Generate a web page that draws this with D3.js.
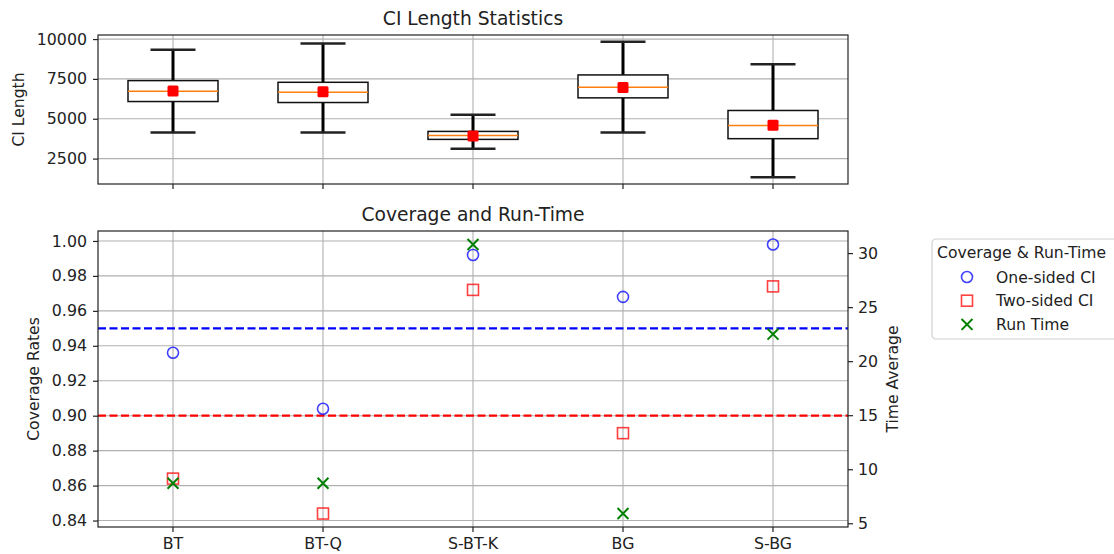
<!DOCTYPE html>
<html>
<head>
<meta charset="utf-8">
<script src="https://cdn.jsdelivr.net/npm/d3@7"></script>
<style>
  body { margin: 0; background: #fff; }
  svg { font-family: "DejaVu Sans", sans-serif; }
  .grid line { stroke: #b0b0b0; stroke-width: 1.1; }
  .axis text { font-family: "DejaVu Sans", sans-serif; font-size: 15.8px; fill: #222; }
  .axis path { display: none; }
  .axis line { stroke: #222; stroke-width: 1.2; }
</style>
</head>
<body>
<svg id="chart" width="1114" height="554"></svg>
<script>
// Methods compared
const methods = ['BT', 'BT-Q', 'S-BT-K', 'BG', 'S-BG'];

// CI length box statistics
const whiskerLow = [4144, 4144, 3125, 4144, 1331];
const q1 = [6081, 6019, 3706, 6312, 3750];
const median = [6725, 6663, 3956, 6975, 4581];
const q3 = [7394, 7288, 4206, 7750, 5519];
const whiskerHigh = [9331, 9725, 5250, 9831, 8413];
const meanLength = [6745, 6690, 3920, 6960, 4590];

// Coverage rates and run time
const oneSided = [0.936, 0.904, 0.992, 0.968, 0.998];
const twoSided = [0.864, 0.844, 0.972, 0.890, 0.974];
const runTime = [8.7, 8.7, 30.8, 5.9, 22.5];

const nominalLevels = [0.95, 0.90];
const nominalColors = ['blue', 'red'];

const lengthTicks = [2500, 5000, 7500, 10000];
const coverageTicks = [0.84, 0.86, 0.88, 0.90, 0.92, 0.94, 0.96, 0.98, 1.00];
const timeTicks = [5, 10, 15, 20, 25, 30];

const svg = d3.select('#chart');

const plotLeft = 98;
const plotRight = 848;
const topBox = { top: 35, bottom: 184 };
const botBox = { top: 231, bottom: 527 };

// pad a domain by 5% on each side, like the default margins
const padded = (lo, hi) => {
  const m = (hi - lo) * 0.05;
  return [lo - m, hi + m];
};

const x = d3.scaleBand()
  .domain(methods)
  .range([plotLeft, plotRight])
  .paddingInner(0)
  .paddingOuter(0);
const cx = d => x(d) + x.bandwidth() / 2;

/* ---------------- top panel: CI length ---------------- */
const yLen = d3.scaleLinear()
  .domain(padded(d3.min(whiskerLow), d3.max(whiskerHigh)))
  .range([topBox.bottom, topBox.top]);

const topG = svg.append('g');

// grid
topG.append('g')
  .attr('class', 'grid')
  .selectAll('line.h')
  .data(lengthTicks)
  .join('line')
  .attr('x1', plotLeft).attr('x2', plotRight)
  .attr('y1', d => yLen(d)).attr('y2', d => yLen(d));

topG.append('g')
  .attr('class', 'grid')
  .selectAll('line.v')
  .data(methods)
  .join('line')
  .attr('x1', d => cx(d)).attr('x2', d => cx(d))
  .attr('y1', topBox.top).attr('y2', topBox.bottom);

// axes
topG.append('g')
  .attr('class', 'axis')
  .attr('transform', `translate(${plotLeft},0)`)
  .call(d3.axisLeft(yLen).tickValues(lengthTicks).tickSize(5).tickPadding(6).tickFormat(d3.format('d')));

topG.append('g')
  .attr('class', 'axis')
  .attr('transform', `translate(0,${topBox.bottom})`)
  .call(d3.axisBottom(x).tickSize(5).tickFormat(''));

// boxes
const boxW = x.bandwidth() * 0.6;
const capW = boxW / 2;

const boxes = topG.append('g')
  .selectAll('g.box')
  .data(methods)
  .join('g')
  .attr('class', 'box');

boxes.append('line')
  .attr('x1', d => cx(d)).attr('x2', d => cx(d))
  .attr('y1', (d, i) => yLen(whiskerHigh[i]))
  .attr('y2', (d, i) => yLen(q3[i]))
  .attr('stroke', '#000').attr('stroke-width', 3);

boxes.append('line')
  .attr('x1', d => cx(d)).attr('x2', d => cx(d))
  .attr('y1', (d, i) => yLen(q1[i]))
  .attr('y2', (d, i) => yLen(whiskerLow[i]))
  .attr('stroke', '#000').attr('stroke-width', 3);

boxes.append('line')
  .attr('x1', d => cx(d) - capW / 2).attr('x2', d => cx(d) + capW / 2)
  .attr('y1', (d, i) => yLen(whiskerHigh[i]))
  .attr('y2', (d, i) => yLen(whiskerHigh[i]))
  .attr('stroke', '#222').attr('stroke-width', 2.5);

boxes.append('line')
  .attr('x1', d => cx(d) - capW / 2).attr('x2', d => cx(d) + capW / 2)
  .attr('y1', (d, i) => yLen(whiskerLow[i]))
  .attr('y2', (d, i) => yLen(whiskerLow[i]))
  .attr('stroke', '#222').attr('stroke-width', 2.5);

boxes.append('rect')
  .attr('x', d => cx(d) - boxW / 2)
  .attr('width', boxW)
  .attr('y', (d, i) => yLen(q3[i]))
  .attr('height', (d, i) => yLen(q1[i]) - yLen(q3[i]))
  .attr('fill', '#fff')
  .attr('stroke', '#111').attr('stroke-width', 1.5);

boxes.append('line')
  .attr('x1', d => cx(d) - boxW / 2).attr('x2', d => cx(d) + boxW / 2)
  .attr('y1', (d, i) => yLen(median[i]))
  .attr('y2', (d, i) => yLen(median[i]))
  .attr('stroke', '#ff7f0e').attr('stroke-width', 1.5);

boxes.append('rect')
  .attr('x', d => cx(d) - 5.5)
  .attr('y', (d, i) => yLen(meanLength[i]) - 5.5)
  .attr('width', 11).attr('height', 11)
  .attr('rx', 1.5)
  .attr('fill', 'red');

// frame
topG.append('rect')
  .attr('x', plotLeft).attr('y', topBox.top)
  .attr('width', plotRight - plotLeft).attr('height', topBox.bottom - topBox.top)
  .attr('fill', 'none').attr('stroke', '#222').attr('stroke-width', 1.2);

topG.append('text')
  .attr('x', (plotLeft + plotRight) / 2).attr('y', 25)
  .attr('text-anchor', 'middle')
  .attr('font-size', 18.7).attr('fill', '#222')
  .text('CI Length Statistics');

topG.append('text')
  .attr('transform', `translate(24,${(topBox.top + topBox.bottom) / 2}) rotate(-90)`)
  .attr('text-anchor', 'middle')
  .attr('font-size', 15.6).attr('fill', '#222')
  .text('CI Length');

/* ---------------- bottom panel: coverage & run time ---------------- */
const yCov = d3.scaleLinear()
  .domain(padded(d3.min(oneSided.concat(twoSided)), d3.max(oneSided.concat(twoSided))))
  .range([botBox.bottom, botBox.top]);

const yTime = d3.scaleLinear()
  .domain(padded(d3.min(runTime), d3.max(runTime)))
  .range([botBox.bottom, botBox.top]);

const botG = svg.append('g');

botG.append('g')
  .attr('class', 'grid')
  .selectAll('line')
  .data(coverageTicks)
  .join('line')
  .attr('x1', plotLeft).attr('x2', plotRight)
  .attr('y1', d => yCov(d)).attr('y2', d => yCov(d));

botG.append('g')
  .attr('class', 'grid')
  .selectAll('line')
  .data(methods)
  .join('line')
  .attr('x1', d => cx(d)).attr('x2', d => cx(d))
  .attr('y1', botBox.top).attr('y2', botBox.bottom);

botG.append('g')
  .attr('class', 'axis')
  .attr('transform', `translate(${plotLeft},0)`)
  .call(d3.axisLeft(yCov).tickValues(coverageTicks).tickSize(5).tickPadding(6).tickFormat(d3.format('.2f')));

botG.append('g')
  .attr('class', 'axis')
  .attr('transform', `translate(${plotRight},0)`)
  .call(d3.axisRight(yTime).tickValues(timeTicks).tickSize(5).tickPadding(5));

botG.append('g')
  .attr('class', 'axis')
  .attr('transform', `translate(0,${botBox.bottom})`)
  .call(d3.axisBottom(x).tickSize(5).tickPadding(6));

// nominal level lines
botG.append('g')
  .selectAll('line')
  .data(nominalLevels)
  .join('line')
  .attr('x1', plotLeft).attr('x2', plotRight)
  .attr('y1', d => yCov(d)).attr('y2', d => yCov(d))
  .attr('stroke', (d, i) => nominalColors[i])
  .attr('stroke-width', 2.2)
  .attr('stroke-dasharray', '8,3.5');

// one-sided circles
botG.append('g')
  .selectAll('circle')
  .data(methods)
  .join('circle')
  .attr('cx', d => cx(d))
  .attr('cy', (d, i) => yCov(oneSided[i]))
  .attr('r', 5.5)
  .attr('fill', 'none')
  .attr('stroke', 'blue').attr('stroke-opacity', 0.75).attr('stroke-width', 1.6);

// two-sided squares
botG.append('g')
  .selectAll('rect')
  .data(methods)
  .join('rect')
  .attr('x', d => cx(d) - 5.5)
  .attr('y', (d, i) => yCov(twoSided[i]) - 5.5)
  .attr('width', 11).attr('height', 11)
  .attr('fill', 'none')
  .attr('stroke', 'red').attr('stroke-opacity', 0.75).attr('stroke-width', 1.6);

// run time crosses
const cross = d3.symbol().type(d3.symbolTimes).size(80);
botG.append('g')
  .selectAll('path')
  .data(methods)
  .join('path')
  .attr('transform', (d, i) => `translate(${cx(d)},${yTime(runTime[i])})`)
  .attr('d', cross)
  .attr('fill', 'none')
  .attr('stroke', 'green').attr('stroke-width', 2);

botG.append('rect')
  .attr('x', plotLeft).attr('y', botBox.top)
  .attr('width', plotRight - plotLeft).attr('height', botBox.bottom - botBox.top)
  .attr('fill', 'none').attr('stroke', '#222').attr('stroke-width', 1.2);

botG.append('text')
  .attr('x', (plotLeft + plotRight) / 2).attr('y', 221)
  .attr('text-anchor', 'middle')
  .attr('font-size', 18.7).attr('fill', '#222')
  .text('Coverage and Run-Time');

botG.append('text')
  .attr('transform', `translate(39,${(botBox.top + botBox.bottom) / 2}) rotate(-90)`)
  .attr('text-anchor', 'middle')
  .attr('font-size', 15.6).attr('fill', '#222')
  .text('Coverage Rates');

botG.append('text')
  .attr('transform', `translate(898,${(botBox.top + botBox.bottom) / 2}) rotate(-90)`)
  .attr('text-anchor', 'middle')
  .attr('font-size', 15.6).attr('fill', '#222')
  .text('Time Average');

/* ---------------- legend ---------------- */
const legendItems = ['One-sided CI', 'Two-sided CI', 'Run Time'];
const legend = svg.append('g').attr('transform', 'translate(932,239)');

legend.append('rect')
  .attr('width', 200).attr('height', 100)
  .attr('rx', 4)
  .attr('fill', '#fff')
  .attr('stroke', '#d0d0d0').attr('stroke-width', 1.2);

legend.append('text')
  .attr('x', 5).attr('y', 19)
  .attr('font-size', 15.6).attr('fill', '#222')
  .text('Coverage & Run-Time');

const rowY = i => 38 + i * 23.7;

legend.append('circle')
  .attr('cx', 35).attr('cy', rowY(0)).attr('r', 5.5)
  .attr('fill', 'none').attr('stroke', 'blue').attr('stroke-opacity', 0.75).attr('stroke-width', 1.6);

legend.append('rect')
  .attr('x', 29.5).attr('y', rowY(1) - 5.5).attr('width', 11).attr('height', 11)
  .attr('fill', 'none').attr('stroke', 'red').attr('stroke-opacity', 0.75).attr('stroke-width', 1.6);

legend.append('path')
  .attr('transform', `translate(35,${rowY(2)})`)
  .attr('d', cross)
  .attr('fill', 'none').attr('stroke', 'green').attr('stroke-width', 2);

legend.selectAll('text.item')
  .data(legendItems)
  .join('text')
  .attr('class', 'item')
  .attr('x', 64)
  .attr('y', (d, i) => rowY(i) + 5.5)
  .attr('font-size', 15.6).attr('fill', '#222')
  .text(d => d);
</script>
</body>
</html>
